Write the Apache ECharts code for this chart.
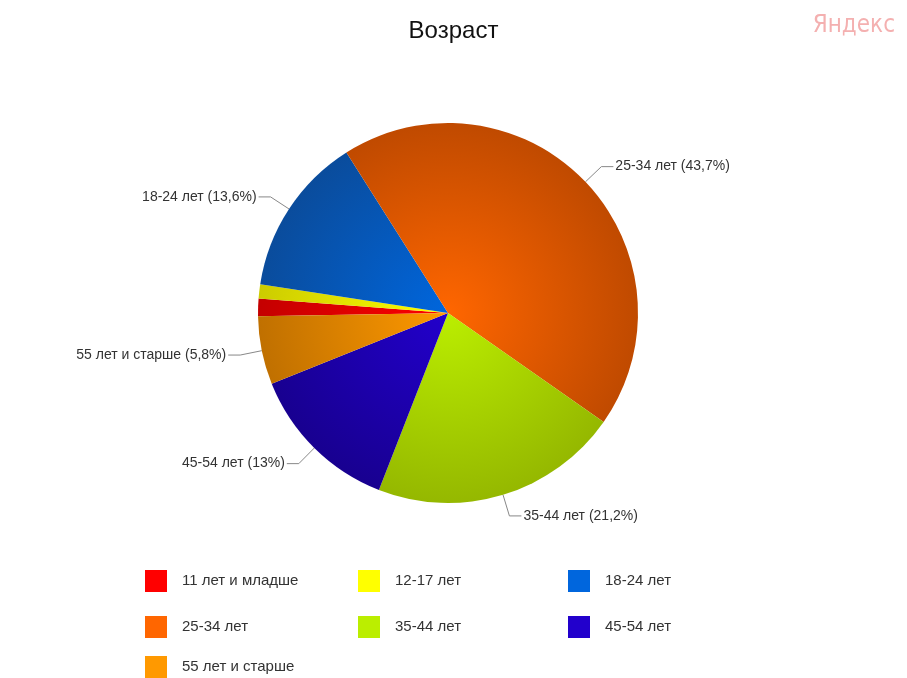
<!DOCTYPE html>
<html>
<head>
<meta charset="utf-8">
<script src="https://cdn.jsdelivr.net/npm/echarts@6/dist/echarts.min.js"></script>
<style>
  html, body { margin: 0; padding: 0; background: #fff; }
  #chart { width: 907px; height: 678px; }
</style>
</head>
<body>
<div id="chart"></div>
<script>
// данные
var categories = ['11 лет и младше', '12-17 лет', '18-24 лет', '25-34 лет', '35-44 лет', '45-54 лет', '55 лет и старше'];
var values = [1.5, 1.2, 13.6, 43.7, 21.2, 13, 5.8];
var valueLabels = ['1,5', '1,2', '13,6', '43,7', '21,2', '13', '5,8'];
var showLabel = [false, false, true, true, true, true, true];

var colors = ['#ff0000', '#ffff00', '#0066dd', '#ff6600', '#bbee00', '#2200cc', '#ff9900'];
var edgeColors = ['#c40000', '#cccc00', '#0a4c9c', '#c04a00', '#95b800', '#180090', '#c07000'];

// позиции легенды (3 колонки)
var legendPos = [[145, 570], [358, 570], [568, 570], [145, 616], [358, 616], [568, 616], [145, 656]];

var cx = 448, cy = 313, R = 190;

var myChart = echarts.init(document.getElementById('chart'));

var pieData = categories.map(function (name, i) {
  return {
    name: name,
    value: values[i],
    itemStyle: {
      color: {
        type: 'radial', x: cx, y: cy, r: R, global: true,
        colorStops: [
          { offset: 0, color: colors[i] },
          { offset: 1, color: edgeColors[i] }
        ]
      }
    },
    label: { show: showLabel[i] },
    labelLine: { show: showLabel[i] }
  };
});

var legends = categories.map(function (name, i) {
  return {
    data: [{ name: name, itemStyle: { color: colors[i] } }],
    left: legendPos[i][0],
    top: legendPos[i][1],
    padding: 0,
    icon: 'rect',
    itemWidth: 22,
    itemHeight: 22,
    itemGap: 0,
    selectedMode: false,
    textStyle: { fontFamily: 'Arial, Liberation Sans', fontSize: 15, color: '#333', padding: [0, 0, 0, 10] }
  };
});

var option = {
  animation: false,
  backgroundColor: '#fff',
  title: {
    text: 'Возраст',
    left: 'center',
    top: 14,
    textStyle: { fontFamily: 'Arial, Liberation Sans', fontSize: 24, fontWeight: 'normal', color: '#111' }
  },
  graphic: [{
    type: 'text',
    right: 12,
    top: 14,
    style: {
      text: 'Яндекс',
      fontFamily: 'Liberation Sans Narrow, Arial Narrow, DejaVu Sans Condensed, Liberation Sans',
      fontSize: 24,
      fill: '#f4b0b0'
    }
  }],
  legend: legends,
  series: [{
    type: 'pie',
    center: [cx, cy],
    radius: R,
    startAngle: 181,
    clockwise: true,
    avoidLabelOverlap: false,
    data: pieData,
    itemStyle: { borderWidth: 0 },
    label: {
      position: 'outside',
      fontFamily: 'Arial, Liberation Sans',
      fontSize: 14,
      color: '#333',
      distanceToLabelLine: 2,
      formatter: function (p) { return p.name + ' (' + valueLabels[p.dataIndex] + '%)'; }
    },
    labelLine: {
      length: 22,
      length2: 12,
      lineStyle: { color: '#888', width: 1 }
    },
    emphasis: { disabled: true }
  }]
};

myChart.setOption(option);
</script>
</body>
</html>
